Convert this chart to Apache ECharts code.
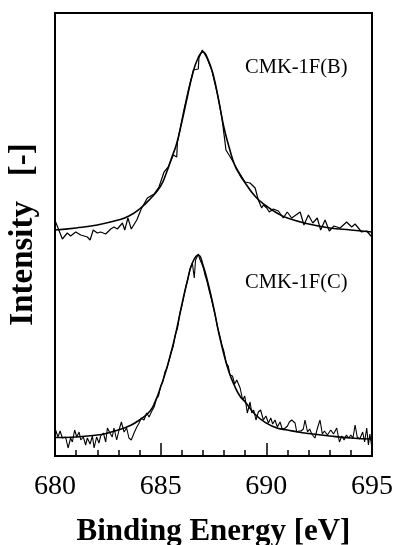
<!DOCTYPE html>
<html>
<head>
<meta charset="utf-8">
<script src="https://cdn.jsdelivr.net/npm/echarts@6/dist/echarts.min.js"></script>
<style>
  html, body { margin: 0; padding: 0; background: #fff; }
  #chart { width: 394px; height: 545px; }
</style>
</head>
<body>
<div id="chart"></div>
<script>
// binding energy ticks
const xTicks = [680, 685, 690, 695];

// CMK-1F(B): measured spectrum
const bEnergy = [680.03, 680.35, 680.58, 680.74, 680.98, 681.22, 681.53, 681.66, 681.81, 682.00,
  682.16, 682.40, 682.64, 682.79, 682.95, 683.19, 683.30, 683.45, 683.61, 683.87,
  684.08, 684.37, 684.69, 684.92, 685.16, 685.36, 685.60, 685.76, 685.79, 686.07,
  686.30, 686.55, 686.78, 686.81, 686.97, 687.19, 687.43, 687.71, 687.90, 688.09,
  688.38, 688.67, 688.99, 689.23, 689.47, 689.62, 689.78, 689.86, 690.02, 690.14,
  690.33, 690.57, 690.80, 690.99, 691.20, 691.60, 691.78, 691.99, 692.20, 692.41,
  692.57, 692.78, 692.98, 693.20, 693.49, 693.80, 694.04, 694.20, 694.51, 694.75, 694.99];
const bCounts = [234, 217, 223, 220, 224, 221, 219, 216, 226, 223,
  224, 222, 227, 229, 227, 233, 226, 238, 227, 236,
  247, 258, 262, 269, 284, 289, 301, 299, 313, 343,
  365, 386, 387, 398, 406, 398, 385, 360, 338, 306,
  296, 285, 274, 273, 268, 256, 248, 251, 248, 244,
  247, 245, 238, 244, 238, 244, 231, 241, 233, 238,
  226, 236, 225, 230, 228, 234, 229, 232, 224, 225, 219];

// CMK-1F(B): fitted curve
const bFitEnergy = [680, 681, 682, 683, 683.5, 684, 684.5, 685, 685.25, 685.5,
  685.75, 686, 686.25, 686.5, 686.75, 687, 687.25, 687.5, 687.75, 688,
  688.25, 688.5, 688.75, 689, 689.5, 690, 690.5, 691, 692, 693, 694, 695];
const bFit = [226, 228, 231, 236, 240, 247, 257, 270, 282, 297,
  312, 334, 358, 381, 397, 404, 396, 380, 355, 328,
  308, 291, 281, 273, 259, 250, 243, 238, 232, 228, 226, 224];

// CMK-1F(C): measured spectrum
const cEnergy = [680.03, 680.14, 680.24, 680.35, 680.50, 680.62, 680.74, 680.82, 680.93, 681.03,
  681.14, 681.22, 681.34, 681.45, 681.53, 681.66, 681.77, 681.85, 681.97, 682.08,
  682.16, 682.29, 682.40, 682.48, 682.60, 682.71, 682.79, 682.92, 683.03, 683.14,
  683.27, 683.39, 683.50, 683.61, 683.74, 683.87, 683.98, 684.08, 684.21, 684.34,
  684.45, 684.56, 684.69, 684.80, 684.90, 685.00, 685.10, 685.20, 685.30, 685.40,
  685.50, 685.60, 685.70, 685.80, 685.90, 686.00, 686.10, 686.20, 686.30, 686.40,
  686.50, 686.59, 686.65, 686.72, 686.78, 686.85, 686.95, 687.02, 687.10, 687.20,
  687.30, 687.40, 687.50, 687.60, 687.70, 687.80, 687.90, 688.00, 688.10, 688.20,
  688.28, 688.40, 688.50, 688.60, 688.76, 688.88, 688.98, 689.10, 689.23, 689.31,
  689.40, 689.51, 689.62, 689.73, 689.86, 689.98, 690.10, 690.21, 690.30, 690.41,
  690.52, 690.65, 690.75, 690.90, 691.00, 691.09, 691.20, 691.36, 691.44, 691.55,
  691.65, 691.75, 691.83, 691.95, 692.05, 692.15, 692.30, 692.42, 692.54, 692.65,
  692.75, 692.89, 693.05, 693.18, 693.33, 693.46, 693.57, 693.68, 693.79, 693.90,
  694.00, 694.10, 694.20, 694.30, 694.42, 694.56, 694.65, 694.75, 694.83, 694.90, 694.99];
const cCounts = [26, 19, 25, 18, 19, 8, 18, 14, 26, 19,
  24, 16, 19, 11, 18, 12, 20, 8, 19, 13,
  20, 23, 14, 28, 23, 19, 28, 16, 26, 34,
  24, 28, 18, 16, 23, 29, 33, 38, 36, 43,
  39, 44, 49, 57, 60, 70, 74, 84, 88, 96,
  104, 110, 122, 128, 142, 150, 160, 170, 178, 188,
  193, 178, 196, 199, 202, 197, 192, 188, 181, 174,
  165, 157, 148, 139, 128, 120, 111, 104, 93, 90,
  81, 80, 72, 76, 68, 56, 60, 43, 54, 43,
  46, 36, 44, 46, 36, 40, 33, 38, 32, 36,
  29, 34, 27, 28, 30, 34, 36, 33, 24, 25,
  25, 27, 36, 24, 27, 22, 18, 28, 36, 22,
  25, 21, 26, 22, 28, 14, 20, 16, 21, 18,
  21, 18, 31, 19, 17, 24, 14, 28, 11, 22, 9];

// CMK-1F(C): fitted curve
const cFitEnergy = [680, 681, 682, 682.5, 683, 683.5, 684, 684.5, 684.75, 685,
  685.25, 685.5, 685.75, 686, 686.25, 686.5, 686.78, 687, 687.25, 687.5,
  687.75, 688, 688.25, 688.5, 688.75, 689, 689.5, 690, 690.5, 691,
  691.5, 692, 693, 694, 695];
const cFit = [18.5, 19, 21, 23, 26, 30, 36, 45, 55, 69,
  85, 104, 126, 151, 174, 193, 201, 191, 172, 149,
  123, 101, 83, 70, 60, 54, 41, 33, 28, 26,
  24, 22.5, 20, 18, 17];

const pairs = (xs, ys) => xs.map((x, i) => [x, ys[i]]);
const serif = "'Liberation Serif', 'Times New Roman', serif";

const chart = echarts.init(document.getElementById("chart"));

const lineSeries = (data, width, smooth) => ({
  type: "line",
  data,
  showSymbol: false,
  smooth,
  animation: false,
  lineStyle: { color: "#000", width },
});

chart.setOption({
  backgroundColor: "#fff",
  grid: {
    left: 55, right: 22, top: 13, bottom: 89,
    outerBoundsMode: "none",
    show: true, borderColor: "#000", borderWidth: 2, backgroundColor: "transparent",
  },
  xAxis: {
    type: "value",
    min: xTicks[0],
    max: xTicks[xTicks.length - 1],
    interval: 5,
    name: "Binding Energy [eV]",
    nameLocation: "middle",
    nameGap: 60,
    nameTextStyle: { fontFamily: serif, fontWeight: "bold", fontSize: 31, color: "#000" },
    axisLine: { show: true, lineStyle: { color: "#000", width: 2 } },
    axisTick: { show: true, inside: true, length: 13, lineStyle: { color: "#000", width: 1.5 } },
    minorTick: { show: true, splitNumber: 5, length: 6, lineStyle: { color: "#000", width: 1.5 } },
    axisLabel: { fontFamily: serif, fontSize: 28, color: "#000", margin: 17 },
    splitLine: { show: false },
  },
  yAxis: {
    type: "value",
    min: 0,
    max: 443,
    name: "Intensity   [-]",
    nameLocation: "middle",
    nameGap: 15,
    nameTextStyle: { fontFamily: serif, fontWeight: "bold", fontSize: 33, color: "#000" },
    axisLine: { show: true, lineStyle: { color: "#000", width: 2 } },
    axisTick: { show: false },
    axisLabel: { show: false },
    splitLine: { show: false },
  },
  graphic: [
    { type: "text", left: 245, top: 57, style: { text: "CMK-1F(B)", font: "20.5px " + serif, fill: "#000" } },
    { type: "text", left: 245, top: 272, style: { text: "CMK-1F(C)", font: "20.5px " + serif, fill: "#000" } },
  ],
  series: [
    lineSeries(pairs(bEnergy, bCounts), 1.2, false),
    lineSeries(pairs(bFitEnergy, bFit), 1.6, true),
    lineSeries(pairs(cEnergy, cCounts), 1.1, false),
    lineSeries(pairs(cFitEnergy, cFit), 1.6, true),
  ],
});
</script>
</body>
</html>
